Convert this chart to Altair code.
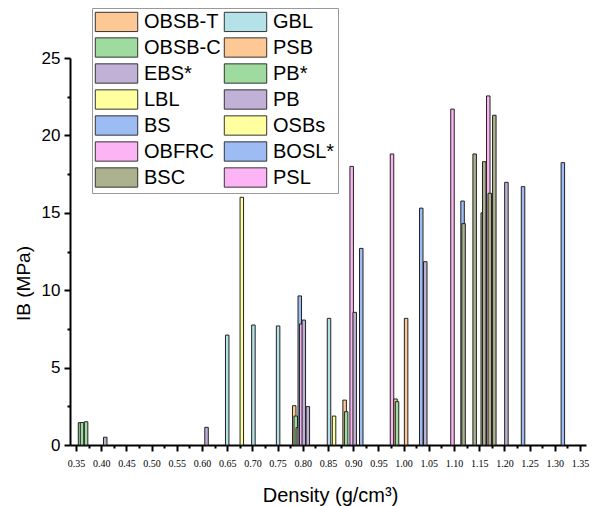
import altair as alt
import pandas as pd

# ---- data ----
densities = [0.358, 0.362, 0.370, 0.408, 0.609, 0.650, 0.679, 0.702, 0.751, 0.783,
             0.786, 0.790, 0.794, 0.797, 0.802, 0.810, 0.852, 0.862, 0.883, 0.886,
             0.897, 0.903, 0.916, 0.977, 0.984, 0.987, 1.005, 1.035, 1.043, 1.097,
             1.117, 1.119, 1.141, 1.157, 1.160, 1.168, 1.171, 1.180, 1.204, 1.237,
             1.316]
ib_values = [1.44, 1.45, 1.50, 0.50, 1.14, 7.10, 16.0, 7.75, 7.69, 2.54,
             1.87, 1.12, 9.63, 7.82, 8.07, 2.48, 8.18, 1.87, 2.90, 2.15,
             18.0, 8.57, 12.7, 18.8, 2.97, 2.80, 8.18, 15.3, 11.84, 21.7,
             15.76, 14.3, 18.8, 15.0, 18.3, 22.55, 16.26, 21.3, 16.97, 16.69,
             18.24]
materials = ["PB*", "PB*", "PB*", "EBS*", "EBS*", "GBL", "LBL", "GBL", "GBL", "PSB",
             "PB*", "BSC", "BS", "OBFRC", "PB", "EBS*", "GBL", "OSBs", "OBSB-T", "OBSB-C",
             "PSL", "PB", "BOSL*", "PSL", "OBSB-T", "OBSB-C", "PSB", "BOSL*", "PB", "PSL",
             "BS", "BSC", "BSC", "BSC", "BSC", "PSL", "BSC", "BSC", "PB", "BS",
             "BS"]

# legend (two columns, filled column by column)
legend_order = ["OBSB-T", "OBSB-C", "EBS*", "LBL", "BS", "OBFRC", "BSC",
                "GBL", "PSB", "PB*", "PB", "OSBs", "BOSL*", "PSL"]
legend_colors = ["#FEC894", "#9FDA9F", "#C1B1D7", "#FFFF9F", "#9CBCF3", "#FDB4F4", "#ADB28E",
                 "#B4E2E8", "#FEC894", "#9FDA9F", "#C1B1D7", "#FFFF9F", "#9CBCF3", "#FDB4F4"]

x_ticks = [round(0.35 + 0.025 * i, 3) for i in range(41)]
y_ticks = [2.5 * i for i in range(11)]

df = pd.DataFrame({"Density": densities, "IB": ib_values, "Material": materials})

major_x = "round(datum.value*1000) % 50 == 0"
major_y = "round(datum.value*10) % 50 == 0"

chart = alt.Chart(df).mark_bar(
    orient="vertical", size=3.5, stroke="#222222", strokeWidth=1
).encode(
    x=alt.X(
        "Density:Q",
        scale=alt.Scale(domain=[0.348, 1.352], nice=False, zero=False),
        axis=alt.Axis(
            title="Density (g/cm³)",
            values=x_ticks,
            labelExpr=f"{major_x} ? format(datum.value, '.2f') : ''",
            tickSize={"condition": {"test": major_x, "value": 6}, "value": 3},
            labelPadding=7,
            labelOverlap=False,
            labelFlush=False,
            labelFont="Liberation Serif",
            labelFontSize=10,
            labelColor="#000000",
            tickColor="#000000",
            tickWidth=2,
            domainColor="#000000",
            domainWidth=2,
            grid=False,
            titleFont="Liberation Sans",
            titleFontSize=20,
            titleFontWeight="normal",
            titleColor="#000000",
            titleBaseline="alphabetic",
            titleX=260,
            titleY=56,
        ),
    ),
    y=alt.Y(
        "IB:Q",
        scale=alt.Scale(domain=[0, 25], nice=False),
        axis=alt.Axis(
            title="IB (MPa)",
            values=y_ticks,
            labelExpr=f"{major_y} ? format(datum.value, 'd') : ''",
            tickSize={"condition": {"test": major_y, "value": 6}, "value": 3},
            labelPadding=4,
            labelFont="Liberation Sans",
            labelFontSize=17,
            labelColor="#000000",
            tickColor="#000000",
            tickWidth=2,
            domainColor="#000000",
            domainWidth=2,
            grid=False,
            titleFont="Liberation Sans",
            titleFontSize=19,
            titleFontWeight="normal",
            titleColor="#000000",
            titleAngle=270,
            titleBaseline="middle",
            titleAlign="center",
            titleX=-47,
            titleY=225,
        ),
    ),
    fill=alt.Fill(
        "Material:N",
        scale=alt.Scale(domain=legend_order, range=legend_colors),
        legend=alt.Legend(
            title=None,
            orient="none",
            legendX=22,
            legendY=-50,
            columns=2,
            columnPadding=1,
            rowPadding=1,
            padding=3,
            symbolType="M-2.2,-1H2.2V1H-2.2Z",
            symbolSize=372,
            symbolOffset=11,
            symbolStrokeColor="#333333",
            symbolStrokeWidth=1,
            symbolOpacity=1,
            labelOffset=17,
            labelFont="Liberation Sans",
            labelFontSize=20,
            labelColor="#000000",
            labelLimit=200,
            strokeColor="#999999",
            fillColor="#FFFFFF",
        ),
    ),
).properties(
    width=516,
    height=387,
    padding={"left": 70, "top": 58, "right": 8, "bottom": 61},
    autosize="none",
).configure_view(stroke=None)

chart.save("out.html", embed_options={"renderer": "svg", "actions": False})
